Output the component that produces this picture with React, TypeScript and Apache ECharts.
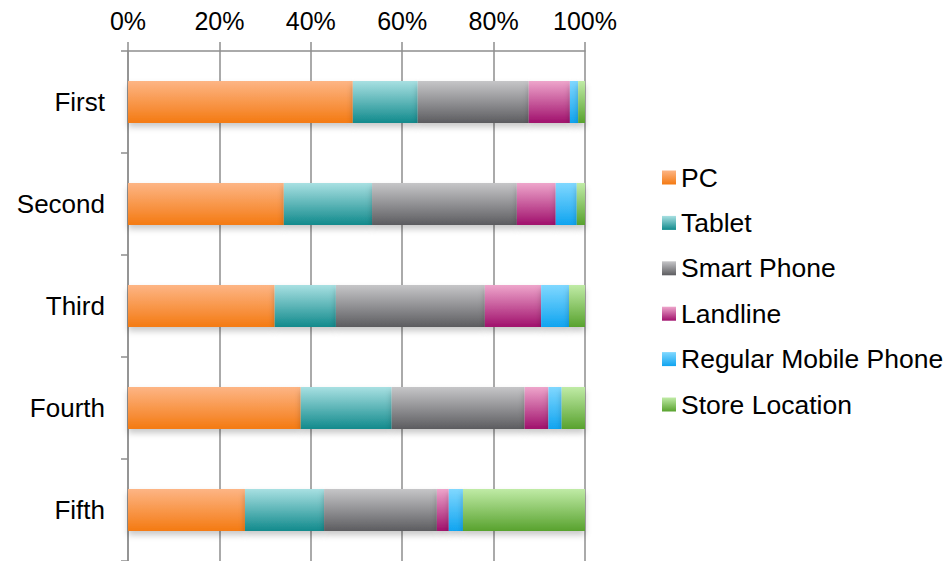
import React, { useEffect, useRef } from "react";
import * as echarts from "echarts";

const categories = ["First", "Second", "Third", "Fourth", "Fifth"];
const seriesNames = ["PC", "Tablet", "Smart Phone", "Landline", "Regular Mobile Phone", "Store Location"];
const pc = [49.2, 34.1, 32.1, 37.8, 25.6];
const tablet = [14.2, 19.3, 13.4, 19.9, 17.3];
const smartPhone = [24.3, 31.7, 32.6, 29.1, 24.7];
const landline = [9.0, 8.5, 12.3, 5.2, 2.6];
const regularMobile = [1.8, 4.6, 6.1, 2.9, 3.1];
const storeLocation = [1.5, 1.8, 3.5, 5.1, 26.7];
const xTicks = [0, 20, 40, 60, 80, 100];

const seriesValues = [pc, tablet, smartPhone, landline, regularMobile, storeLocation];
const gradients: [string, string][] = [
  ["#FDB585", "#F47A12"],
  ["#A8E0E2", "#118A8C"],
  ["#C6C6C8", "#5C5C60"],
  ["#EEA5CB", "#A0106C"],
  ["#80D8FF", "#10A4F0"],
  ["#C0EBA6", "#58A22E"],
];

const FONT = "'Liberation Sans', Arial, sans-serif";

export default function App() {
  const ref = useRef<HTMLDivElement>(null);
  useEffect(() => {
    if (!ref.current) return;
    const chart = echarts.init(ref.current, null, { renderer: "svg" });
    chart.setOption({
      animation: false,
      backgroundColor: "#ffffff",
      textStyle: { fontFamily: FONT },
      legend: {
        orient: "vertical",
        left: 657,
        top: 159,
        icon: "rect",
        itemWidth: 14,
        itemHeight: 14,
        itemGap: 18.4,
        data: seriesNames,
        textStyle: { fontFamily: FONT, fontSize: 26.5, color: "#000", lineHeight: 26 },
      },
      grid: { left: 128, right: 361, top: 51, bottom: 0, containLabel: false },
      xAxis: {
        type: "value",
        position: "top",
        min: xTicks[0],
        max: xTicks[xTicks.length - 1],
        interval: 20,
        axisLine: { show: true, lineStyle: { color: "#8E8E8E", width: 1.5 } },
        axisTick: { show: true, length: 9, lineStyle: { color: "#8E8E8E", width: 1.5 } },
        axisLabel: {
          formatter: (v: number) => v + "%",
          fontFamily: FONT,
          fontSize: 25,
          color: "#000",
          margin: 18,
        },
        splitLine: { show: true, lineStyle: { color: "#8E8E8E", width: 1.5 } },
      },
      yAxis: {
        type: "category",
        inverse: true,
        data: categories,
        axisLine: { show: true, lineStyle: { color: "#8E8E8E", width: 1.5 } },
        axisTick: { show: true, length: 7, lineStyle: { color: "#8E8E8E", width: 1.5 } },
        axisLabel: { fontFamily: FONT, fontSize: 26, color: "#000", margin: 23 },
      },
      series: seriesNames.map((name, i) => ({
        name,
        type: "bar",
        stack: "total",
        barWidth: 42,
        data: seriesValues[i],
        itemStyle: {
          color: new echarts.graphic.LinearGradient(0, 0, 0, 1, [
            { offset: 0, color: gradients[i][0] },
            { offset: 1, color: gradients[i][1] },
          ]),
          shadowColor: "rgba(0,0,0,0.22)",
          shadowBlur: 6,
          shadowOffsetY: 4,
        },
      })),
    });
    return () => chart.dispose();
  }, []);
  return <div ref={ref} style={{ width: 946, height: 561, position: "absolute", left: 0, top: 0 }} />;
}
